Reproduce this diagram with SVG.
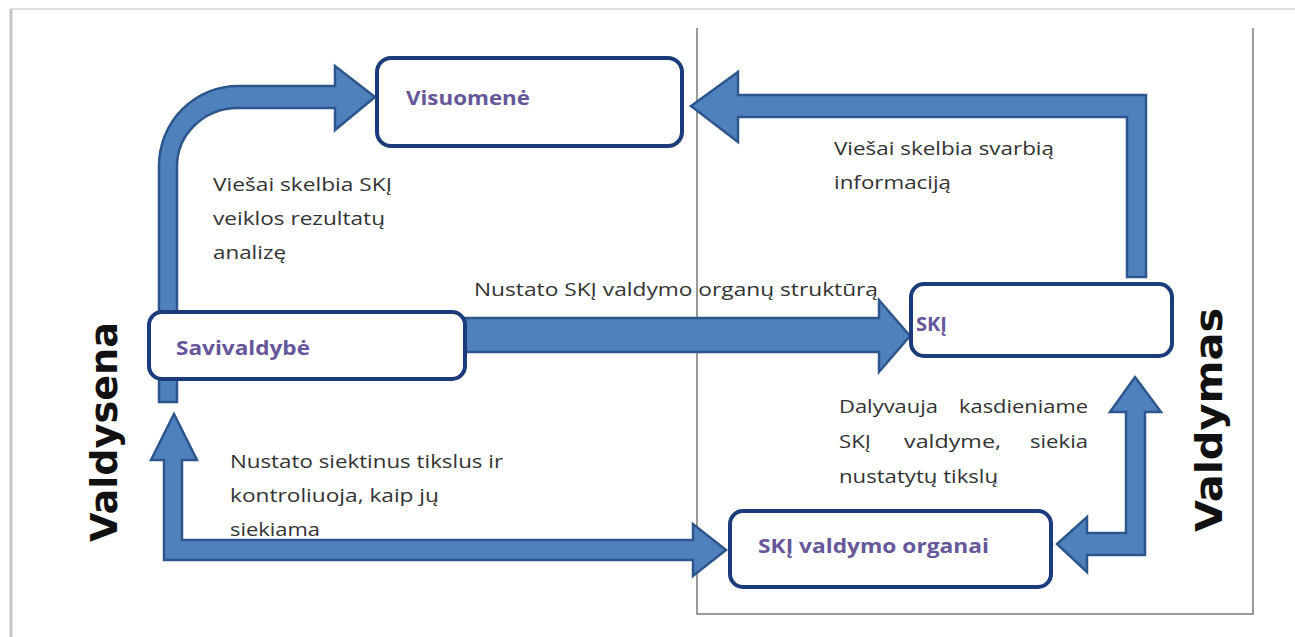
<svg xmlns="http://www.w3.org/2000/svg" width="1295" height="637" viewBox="0 0 1295 637">
<style>
.box{fill:#ffffff;stroke:#1b3b7a;stroke-width:4}
.arr{fill:#4f81bd;stroke:#2d568c;stroke-width:2.5;stroke-linejoin:miter}
.lbl{font-family:"Open Sans","Noto Sans",sans-serif;font-weight:bold;font-size:19px;fill:#66579a}
.txt{font-family:"Open Sans","Noto Sans",sans-serif;font-size:18px;fill:#333333}
.side{font-family:"DejaVu Sans",sans-serif;font-weight:bold;font-size:38px;fill:#111111}
.frame{stroke:#7a7a7a;stroke-width:1.5;fill:none}
</style>
<rect width="1295" height="637" fill="#ffffff"/>
<g id="outer-frame">
<line x1="11" y1="9" x2="1295" y2="9" stroke="#dedede" stroke-width="2"/>
<line x1="11" y1="9" x2="11" y2="637" stroke="#c4c4c4" stroke-width="3"/>
</g>
<g id="frame" class="frame">
<polyline points="697,28 697,614 1253,614 1253,28"/>
</g>
<g id="connectors">
<path class="arr" d="M159,402 L159,166 A79,80 0 0 1 238,86 L335,86 L335,66 L375,97 L335,130 L335,108 L238,108 A61,58 0 0 0 177,166 L177,402 Z"/>
<path class="arr" d="M1127,277 L1127,117 L738,117 L738,142 L691,106 L738,72 L738,95 L1146,95 L1146,277 Z"/>
<path class="arr" d="M460,318 L879,318 L879,300 L910,336 L879,372 L879,352 L460,352 Z"/>
<path class="arr" d="M174,414 L197,460 L182,460 L182,540 L693,540 L693,524 L726,550 L693,576 L693,560 L164,560 L164,460 L151,460 Z"/>
<path class="arr" d="M1135,377 L1161,412 L1145,412 L1145,555 L1087,555 L1087,572 L1057,544 L1087,517 L1087,533 L1126,533 L1126,412 L1110,412 Z"/>
</g>
<g id="visuomene">
<rect class="box" x="377" y="58" width="305" height="88" rx="14"/>
<text class="lbl" x="406" y="105" textLength="124" lengthAdjust="spacingAndGlyphs">Visuomenė</text>
</g>
<g id="savivaldybe">
<rect class="box" x="149" y="312" width="316" height="67" rx="13"/>
<text class="lbl" x="176" y="355" textLength="134" lengthAdjust="spacingAndGlyphs">Savivaldybė</text>
</g>
<g id="ski">
<rect class="box" x="911" y="284" width="261" height="72" rx="13"/>
<text class="lbl" x="916" y="331" textLength="31" lengthAdjust="spacingAndGlyphs">SKĮ</text>
</g>
<g id="ski-valdymo-organai">
<rect class="box" x="730" y="511" width="321" height="76" rx="13"/>
<text class="lbl" x="758" y="553" textLength="231" lengthAdjust="spacingAndGlyphs">SKĮ valdymo organai</text>
</g>
<g id="labels">
<text class="txt" x="213" y="191" textLength="179" lengthAdjust="spacingAndGlyphs">Viešai skelbia SKĮ</text>
<text class="txt" x="213" y="225" textLength="172" lengthAdjust="spacingAndGlyphs">veiklos rezultatų</text>
<text class="txt" x="213" y="259" textLength="73" lengthAdjust="spacingAndGlyphs">analizę</text>
<text class="txt" x="834" y="155" textLength="220" lengthAdjust="spacingAndGlyphs">Viešai skelbia svarbią</text>
<text class="txt" x="834" y="189" textLength="117" lengthAdjust="spacingAndGlyphs">informaciją</text>
<text class="txt" x="474" y="296" textLength="404" lengthAdjust="spacingAndGlyphs">Nustato SKĮ valdymo organų struktūrą</text>
<text class="txt" x="230" y="468" textLength="273" lengthAdjust="spacingAndGlyphs">Nustato siektinus tikslus ir</text>
<text class="txt" x="230" y="502" textLength="209" lengthAdjust="spacingAndGlyphs">kontroliuoja, kaip jų</text>
<text class="txt" x="230" y="536" textLength="90" lengthAdjust="spacingAndGlyphs">siekiama</text>
<text class="txt" x="839" y="413" textLength="99" lengthAdjust="spacingAndGlyphs">Dalyvauja</text>
<text class="txt" x="959" y="413" textLength="129" lengthAdjust="spacingAndGlyphs">kasdieniame</text>
<text class="txt" x="839" y="448" textLength="32" lengthAdjust="spacingAndGlyphs">SKĮ</text>
<text class="txt" x="904" y="448" textLength="97" lengthAdjust="spacingAndGlyphs">valdyme,</text>
<text class="txt" x="1030" y="448" textLength="58" lengthAdjust="spacingAndGlyphs">siekia</text>
<text class="txt" x="839" y="483" textLength="159" lengthAdjust="spacingAndGlyphs">nustatytų tikslų</text>
</g>
<g id="side-labels">
<text class="side" transform="translate(117,432) rotate(-90)" text-anchor="middle" textLength="220" lengthAdjust="spacingAndGlyphs">Valdysena</text>
<text class="side" transform="translate(1222,420) rotate(-90)" text-anchor="middle" textLength="224" lengthAdjust="spacingAndGlyphs">Valdymas</text>
</g>
</svg>
